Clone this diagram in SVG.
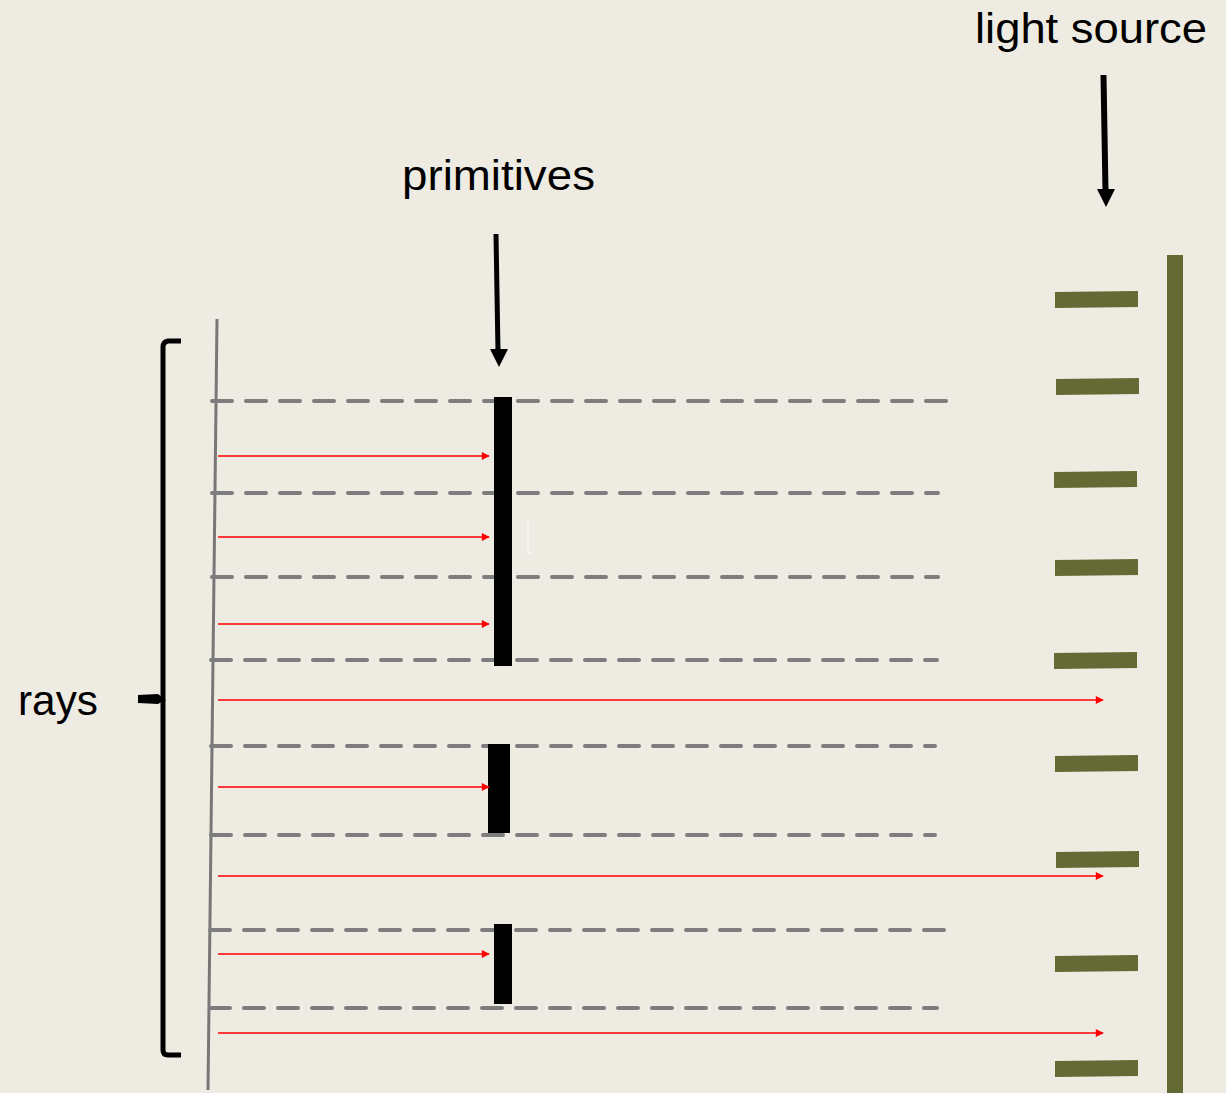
<svg xmlns="http://www.w3.org/2000/svg" width="1226" height="1093" viewBox="0 0 1226 1093">
<defs>
<style>
.dash{stroke:#7d7d7d;stroke-width:4;stroke-dasharray:20 14;stroke-linecap:round;fill:none}
.ray{stroke:#ff0000;stroke-width:1.6;fill:none;marker-end:url(#rh)}
.prim{fill:#000}
.led{fill:#636a34}
.lbl{font-family:"Liberation Sans",Arial,sans-serif;font-size:42px;fill:#000}
</style>
<marker id="rh" viewBox="0 0 10 10" refX="9" refY="5" markerWidth="10" markerHeight="8" markerUnits="userSpaceOnUse" orient="auto">
<path d="M0,0 L10,5 L0,10 Z" fill="#ff0000"/>
</marker>
</defs>
<rect width="1226" height="1093" fill="#eeebe2"/>

<g id="labels">
<text class="lbl" x="975" y="43" textLength="232" lengthAdjust="spacingAndGlyphs">light source</text>
<text class="lbl" x="402" y="190" textLength="193" lengthAdjust="spacingAndGlyphs">primitives</text>
<text class="lbl" x="18" y="715" textLength="80" lengthAdjust="spacingAndGlyphs">rays</text>
</g>

<g id="pointer-arrows">
<line x1="496" y1="234" x2="498" y2="352" stroke="#000" stroke-width="5"/>
<path d="M490,349 L508,349 L499,367 Z" fill="#000"/>
<line x1="1103.5" y1="75" x2="1105.5" y2="192" stroke="#000" stroke-width="6"/>
<path d="M1097,189 L1115,189 L1106,207 Z" fill="#000"/>
</g>

<g id="bracket">
<path d="M181,341 L168,341 Q163,342 163,347 L163,1050 Q163,1055 168,1055 L181,1055" stroke="#000" stroke-width="5" fill="none"/>
<path d="M138,695 L158,694 Q163,698 166,700 Q161,702 158,704 L138,703 Z" fill="#000"/>
</g>

<g id="screen">
<line x1="217" y1="319" x2="208" y2="1090" stroke="#777" stroke-width="3"/>
</g>

<g id="dashed-lines">
<line class="dash" x1="212" y1="401" x2="955" y2="401"/>
<line class="dash" x1="212" y1="493" x2="938" y2="493"/>
<line class="dash" x1="212" y1="577" x2="938" y2="577"/>
<line class="dash" x1="211" y1="660" x2="937" y2="660"/>
<line class="dash" x1="211" y1="746" x2="935" y2="746"/>
<line class="dash" x1="211" y1="835" x2="935" y2="835"/>
<line class="dash" x1="210" y1="930" x2="955" y2="930"/>
<line class="dash" x1="210" y1="1008" x2="937" y2="1008"/>
</g>

<g id="primitives">
<rect class="prim" x="494" y="397" width="18" height="269"/>
<rect class="prim" x="488" y="744" width="22" height="89"/>
<rect class="prim" x="494" y="924" width="18" height="80"/>
<path d="M528,520 L528,553 L533,553" stroke="#f6f4ee" stroke-width="2" fill="none"/>
</g>

<g id="light-source">
<rect class="led" x="1167" y="255" width="16" height="838"/>
<polygon class="led" points="1055,292 1138,291 1138,307 1055,308"/>
<polygon class="led" points="1056,379 1139,378 1139,394 1056,395"/>
<polygon class="led" points="1054,472 1137,471 1137,487 1054,488"/>
<polygon class="led" points="1055,560 1138,559 1138,575 1055,576"/>
<polygon class="led" points="1054,653 1137,652 1137,668 1054,669"/>
<polygon class="led" points="1055,756 1138,755 1138,771 1055,772"/>
<polygon class="led" points="1056,852 1139,851 1139,867 1056,868"/>
<polygon class="led" points="1055,956 1138,955 1138,971 1055,972"/>
<polygon class="led" points="1055,1061 1138,1060 1138,1076 1055,1077"/>
</g>

<g id="connectors">
<line class="ray" x1="218" y1="456" x2="489" y2="456"/>
<line class="ray" x1="218" y1="537" x2="489" y2="537"/>
<line class="ray" x1="218" y1="624" x2="489" y2="624"/>
<line class="ray" x1="218" y1="700" x2="1103" y2="700"/>
<line class="ray" x1="218" y1="787" x2="489" y2="787"/>
<line class="ray" x1="218" y1="876" x2="1103" y2="876"/>
<line class="ray" x1="218" y1="954" x2="489" y2="954"/>
<line class="ray" x1="218" y1="1033" x2="1103" y2="1033"/>
</g>
</svg>
